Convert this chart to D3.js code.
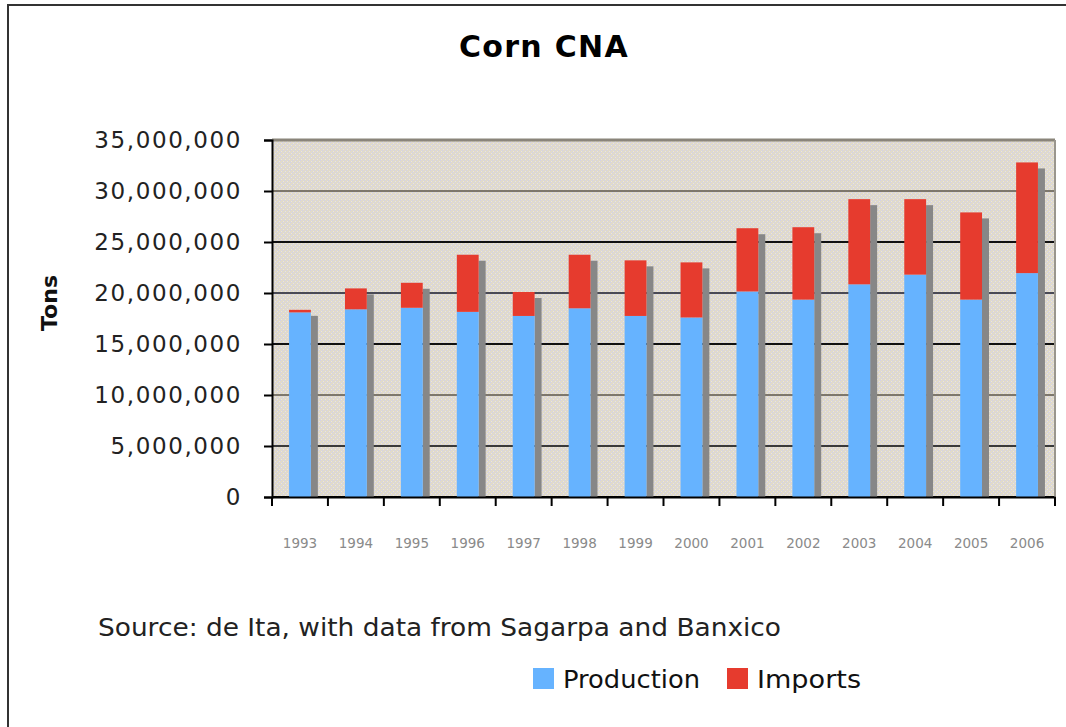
<!DOCTYPE html>
<html>
<head>
<meta charset="utf-8">
<script src="https://cdn.jsdelivr.net/npm/d3@7"></script>
<style>
  html, body { margin: 0; padding: 0; background: #fff; }
  svg { display: block; }
</style>
</head>
<body>
<svg id="chart" width="1066" height="727"></svg>
<script>
// ---- data ----
const years = ["1993","1994","1995","1996","1997","1998","1999","2000","2001","2002","2003","2004","2005","2006"];
const production = [18100000,18400000,18550000,18150000,17750000,18500000,17750000,17600000,20150000,19350000,20850000,21800000,19350000,21950000];
const imports    = [  250000, 2050000, 2450000, 5600000, 2350000, 5250000, 5450000, 5400000, 6200000, 7100000, 8350000, 7400000, 8550000,10850000];
const yTicks = [0,5000000,10000000,15000000,20000000,25000000,30000000,35000000];
const seriesNames = ["Production","Imports"];
const titleText = "Corn CNA";
const yAxisTitle = "Tons";
const sourceText = "Source: de Ita, with data from Sagarpa and Banxico";

(function () {
const svg = d3.select("#chart");
const colors = { Production: "#66b3ff", Imports: "#e63b2e" };
const font = "'DejaVu Sans', Verdana, sans-serif";

const pLeft = 272, pRight = 1055, pTop = 140, pBottom = 497;
const x = d3.scaleBand().domain(years).range([pLeft, pRight]).padding(0);
const y = d3.scaleLinear().domain([0, 35000000]).range([pBottom, pTop]);

// outer frame
svg.append("rect").attr("x", 8).attr("y", 5).attr("width", 1080).attr("height", 740)
  .attr("fill", "#fff").attr("stroke", "#333").attr("stroke-width", 2);

// plot background pattern
const defs = svg.append("defs");
const pat = defs.append("pattern").attr("id", "bgtex").attr("patternUnits", "userSpaceOnUse")
  .attr("width", 4).attr("height", 4);
pat.append("rect").attr("width", 4).attr("height", 4).attr("fill", "#e0dacb");
[[0,0],[2,2],[1,3],[3,1]].forEach(([a,b],i) => pat.append("rect").attr("x", a).attr("y", b)
  .attr("width", 1).attr("height", 1).attr("fill", i < 2 ? "#d2d1ec" : "#e9e5df"));

svg.append("rect").attr("x", pLeft).attr("y", pTop).attr("width", pRight - pLeft).attr("height", pBottom - pTop)
  .attr("fill", "url(#bgtex)");

// gridlines
const gridColor = i => ["#000", "#3a3a3a", "#7d776c", "#111", "#4a4a55", "#111", "#7d776c", "#8a857a"][i];
svg.append("g").selectAll("line").data(yTicks).join("line")
  .attr("x1", pLeft).attr("x2", pRight)
  .attr("y1", d => y(d)).attr("y2", d => y(d))
  .attr("stroke", (d, i) => gridColor(i)).attr("stroke-width", (d, i) => i === 7 ? 3 : 2);

// right border of plot
svg.append("line").attr("x1", pRight).attr("x2", pRight).attr("y1", pTop).attr("y2", pBottom)
  .attr("stroke", "#9a968e").attr("stroke-width", 2);

// bars
const barW = x.bandwidth() * 0.39;
const shadowW = 7, shadowDy = 6;
const data = years.map((yr, i) => ({ yr, p: production[i], m: imports[i] }));
const g = svg.append("g");
g.selectAll("rect.shadow").data(data).join("rect").attr("class", "shadow")
  .attr("x", d => x(d.yr) + (x.bandwidth() - barW) / 2 + barW)
  .attr("y", d => y(d.p + d.m) + shadowDy)
  .attr("width", shadowW)
  .attr("height", d => y(0) - (y(d.p + d.m) + shadowDy))
  .attr("fill", "#878787");
g.selectAll("rect.prod").data(data).join("rect").attr("class", "prod")
  .attr("x", d => x(d.yr) + (x.bandwidth() - barW) / 2)
  .attr("y", d => y(d.p)).attr("width", barW).attr("height", d => y(0) - y(d.p))
  .attr("fill", colors.Production);
g.selectAll("rect.imp").data(data).join("rect").attr("class", "imp")
  .attr("x", d => x(d.yr) + (x.bandwidth() - barW) / 2)
  .attr("y", d => y(d.p + d.m)).attr("width", barW).attr("height", d => y(d.p) - y(d.p + d.m))
  .attr("fill", colors.Imports);

// y axis
const yAxis = d3.axisLeft(y).tickValues(yTicks).tickSize(8).tickPadding(22)
  .tickFormat(d3.format(","));
const yg = svg.append("g").attr("transform", `translate(${pLeft},0)`).call(yAxis);
yg.select(".domain").attr("stroke", "#000").attr("stroke-width", 2);
yg.selectAll(".tick line").attr("stroke", "#000").attr("stroke-width", 2);
yg.selectAll(".tick text").attr("font-family", font).attr("font-size", 23)
  .attr("letter-spacing", "1.6px").attr("fill", "#222");

// x axis
const xAxis = d3.axisBottom(x).tickSize(0).tickPadding(0);
const xg = svg.append("g").attr("transform", `translate(0,${pBottom})`).call(xAxis);
xg.select(".domain").attr("stroke", "#000").attr("stroke-width", 2);
xg.selectAll(".tick text").attr("font-family", font).attr("font-size", 13.5)
  .attr("fill", "#8a8a8a").attr("dy", 0).attr("y", 51);
const bounds = years.map(yr => x(yr)).concat([pRight]);
xg.append("g").selectAll("line").data(bounds).join("line")
  .attr("x1", d => d).attr("x2", d => d).attr("y1", 0).attr("y2", 9)
  .attr("stroke", "#000").attr("stroke-width", 2);

// title
svg.append("text").attr("x", 544).attr("y", 57).attr("text-anchor", "middle")
  .attr("font-family", font).attr("font-weight", "bold").attr("font-size", 30)
  .attr("letter-spacing", "1.3px").attr("fill", "#000").text(titleText);

// y axis title
svg.append("text").attr("transform", "translate(57,303) rotate(-90)").attr("text-anchor", "middle")
  .attr("font-family", font).attr("font-weight", "bold").attr("font-size", 22)
  .attr("fill", "#111").text(yAxisTitle);

// source
svg.append("text").attr("x", 98).attr("y", 636)
  .attr("font-family", font).attr("font-size", 24.5).attr("fill", "#222")
  .attr("textLength", 683).attr("lengthAdjust", "spacingAndGlyphs").text(sourceText);

// legend
const legX = [533, 727];
const legLen = [137, 104];
const leg = svg.append("g");
seriesNames.forEach((s, i) => {
  leg.append("rect").attr("x", legX[i]).attr("y", 668).attr("width", 21).attr("height", 21)
    .attr("fill", colors[s]);
  leg.append("text").attr("x", legX[i] + 30).attr("y", 688)
    .attr("font-family", font).attr("font-size", 25.5).attr("fill", "#111")
    .attr("textLength", legLen[i]).attr("lengthAdjust", "spacingAndGlyphs").text(s);
});
})();
</script>
</body>
</html>
